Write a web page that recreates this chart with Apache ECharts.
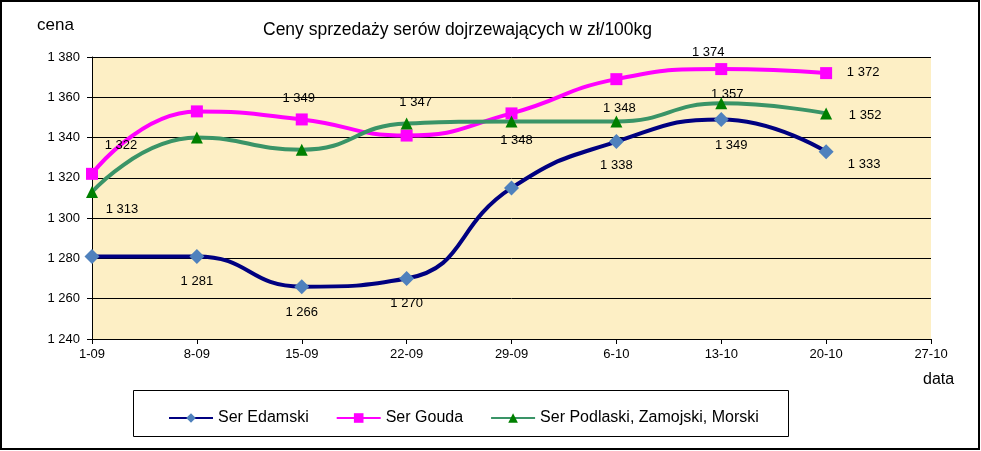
<!DOCTYPE html>
<html>
<head>
<meta charset="utf-8">
<script src="https://cdn.jsdelivr.net/npm/echarts@6/dist/echarts.min.js"></script>
<style>
html,body{margin:0;padding:0;background:#fff;}
#chart{width:981px;height:451px;}
</style>
</head>
<body>
<div id="chart"></div>
<script>
// ---- data ----
const categories = ['1-09','8-09','15-09','22-09','29-09','6-10','13-10','20-10','27-10'];
const seriesNames = ['Ser Edamski','Ser Gouda','Ser Podlaski, Zamojski, Morski'];
const edamski = [1281, 1281, 1266, 1270, 1315, 1338, 1349, 1333];
const gouda   = [1322, 1353, 1349, 1341, 1352, 1369, 1374, 1372];
const podlaski= [1313, 1340, 1334, 1347, 1348, 1348, 1357, 1352];
const yTicks = [1240, 1260, 1280, 1300, 1320, 1340, 1360, 1380];

// ---- label placement (offset from point, null = no label) ----
const edamskiLabelOffsets = [null,[0,25],[0,26],[0,25],null,[0,24],[10,26],[38,13]];
const goudaLabelOffsets   = [[29,-28],null,[-3,-21],null,null,null,[-13,-17],[37,-1]];
const podlaskiLabelOffsets= [[30,17],null,null,[9,-21],[5,19],[3,-13],[6,-9],[39,2]];

const FONT = '"Liberation Sans", Arial, sans-serif';
const fmt = v => { const s = String(Math.round(v)); return s.replace(/\B(?=(\d{3})+(?!\d))/g, ' '); };

function buildData(values, offsets) {
  return values.map((v, i) => {
    const off = offsets[i];
    return {
      value: v,
      label: off ? { show: true, position: 'inside', offset: off } : { show: false }
    };
  });
}

const labelStyle = { color: '#000', fontSize: 13, fontFamily: FONT, formatter: p => fmt(p.value) };

const chart = echarts.init(document.getElementById('chart'), null, { renderer: 'canvas' });
chart.setOption({
  animation: false,
  backgroundColor: '#fff',
  title: {
    text: 'Ceny sprzedaży serów dojrzewających w zł/100kg',
    left: 263, top: 21, padding: 0,
    textStyle: { fontFamily: FONT, fontSize: 17.5, fontWeight: 'normal', color: '#000' }
  },
  grid: { left: 92, right: 50, top: 57, bottom: 112, show: true, backgroundColor: '#FDEFC5', borderWidth: 0 },
  graphic: [
    { type: 'rect', shape: { x: 1, y: 1, width: 978, height: 448 }, style: { fill: 'none', stroke: '#000', lineWidth: 2 }, z: 100 },
    { type: 'rect', shape: { x: 133.5, y: 390.5, width: 655, height: 46 }, style: { fill: '#fff', stroke: '#000', lineWidth: 1 }, z: 0 },
    { type: 'text', x: 37, y: 25, style: { text: 'cena', font: '17px ' + FONT, fill: '#000', textVerticalAlign: 'middle' } },
    { type: 'text', x: 923, y: 380, style: { text: 'data', font: '16px ' + FONT, fill: '#000', textVerticalAlign: 'middle' } }
  ],
  legend: {
    left: 163, top: 405,
    itemWidth: 44, itemHeight: 12, itemGap: 27,
    textStyle: { fontFamily: FONT, fontSize: 16, color: '#000' },
    data: seriesNames
  },
  xAxis: {
    type: 'category', data: categories, boundaryGap: false,
    axisLine: { lineStyle: { color: '#000', width: 1 } },
    axisTick: { show: true, length: 5, lineStyle: { color: '#000' }, alignWithLabel: true },
    axisLabel: { color: '#000', fontSize: 13, fontFamily: FONT, margin: 9, interval: 0 },
    splitLine: { show: false }
  },
  yAxis: {
    type: 'value', min: yTicks[0], max: yTicks[yTicks.length - 1], interval: 20,
    axisLine: { show: true, lineStyle: { color: '#000', width: 1 } },
    axisTick: { show: true, length: 5, lineStyle: { color: '#000' } },
    axisLabel: { color: '#000', fontSize: 13, fontFamily: FONT, margin: 12, formatter: v => fmt(v) },
    splitLine: { show: true, lineStyle: { color: '#000', width: 1 } }
  },
  series: [
    {
      name: seriesNames[0], type: 'line', smooth: 0.5,
      data: buildData(edamski, edamskiLabelOffsets),
      symbol: 'diamond', symbolSize: 15,
      lineStyle: { color: '#000080', width: 4 },
      itemStyle: { color: '#4F81BD', borderWidth: 0 },
      label: labelStyle, z: 3
    },
    {
      name: seriesNames[1], type: 'line', smooth: 0.5,
      data: buildData(gouda, goudaLabelOffsets),
      symbol: 'rect', symbolSize: 12,
      lineStyle: { color: '#FF00FF', width: 4 },
      itemStyle: { color: '#FF00FF', borderWidth: 0 },
      label: labelStyle, z: 2
    },
    {
      name: seriesNames[2], type: 'line', smooth: 0.5,
      data: buildData(podlaski, podlaskiLabelOffsets),
      symbol: 'triangle', symbolSize: 12,
      lineStyle: { color: '#3A9467', width: 4 },
      itemStyle: { color: '#008000', borderWidth: 0 },
      label: labelStyle, z: 2
    }
  ]
});
</script>
</body>
</html>
